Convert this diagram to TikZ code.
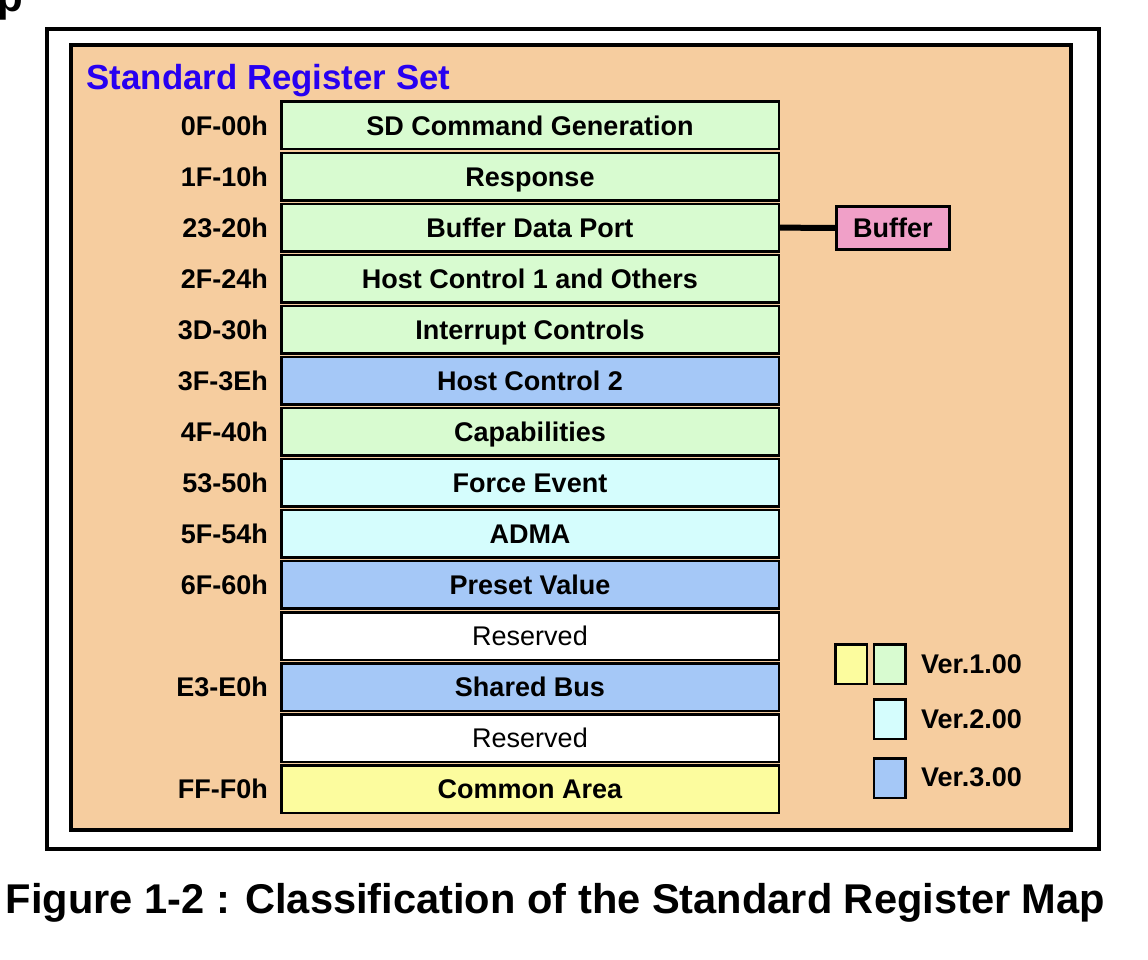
\documentclass[tikz,border=0pt]{standalone}
\usepackage{fontspec}
\setmainfont{Liberation Sans}
\definecolor{bgorange}{HTML}{F6CD9F}
\definecolor{vgreen}{HTML}{D8FBD0}
\definecolor{vblue}{HTML}{A5C8F7}
\definecolor{vcyan}{HTML}{D5FDFD}
\definecolor{vyellow}{HTML}{FCFC9E}
\definecolor{vpink}{HTML}{F0A0C8}
\definecolor{titleblue}{HTML}{2800F0}
\begin{document}
\begin{tikzpicture}[x=1pt,y=-1pt,
  regbox/.style={draw=black, line width=2.5pt, minimum width=497.5pt, minimum height=47.5pt,
    inner sep=0pt, text height=19.3pt, text depth=0pt},
  bold27/.style={font=\fontsize{27}{27}\selectfont\bfseries},
  reg27/.style={font=\fontsize{27}{27}\selectfont},
  addrlabel/.style={bold27, anchor=base east, inner sep=0pt},
  legbox/.style={draw=black, line width=2.5pt, minimum width=31.5pt, minimum height=39.5pt, inner sep=0pt},
  legtext/.style={bold27, anchor=base west, inner sep=0pt}]
\useasboundingbox (0,0) rectangle (1148,960);
\fill[white] (0,0) rectangle (1148,960);
% cut-off heading glyph
\node[anchor=base west, inner sep=0pt, font=\fontsize{42}{42}\selectfont\bfseries] (ptop) at (-3,12) {p};
% frames
\draw[line width=4pt] (47,29.5) rectangle (1098.5,848.7);
\draw[line width=4pt, fill=bgorange] (71,45.5) rectangle (1071,830);
% title
\node[anchor=base west, inner sep=0pt, text=titleblue, font=\fontsize{34.8}{34.8}\selectfont\bfseries] (title) at (86.5,89.5) {Standard Register Set};
% register rows
\foreach \i/\txt/\col/\addr/\fnt in {
  1/SD Command Generation/vgreen/0F-00h/bold27,
  2/Response/vgreen/1F-10h/bold27,
  3/Buffer Data Port/vgreen/23-20h/bold27,
  4/Host Control 1 and Others/vgreen/2F-24h/bold27,
  5/Interrupt Controls/vgreen/3D-30h/bold27,
  6/Host Control 2/vblue/3F-3Eh/bold27,
  7/Capabilities/vgreen/4F-40h/bold27,
  8/Force Event/vcyan/53-50h/bold27,
  9/ADMA/vcyan/5F-54h/bold27,
  10/Preset Value/vblue/6F-60h/bold27,
  11/Reserved/white//reg27,
  12/Shared Bus/vblue/E3-E0h/bold27,
  13/Reserved/white//reg27,
  14/Common Area/vyellow/FF-F0h/bold27}{
  \pgfmathsetmacro{\yc}{125.5+51.05*(\i-1)}
  \node[regbox, fill=\col, \fnt] (r\i) at (530,\yc) {\txt};
  \node[addrlabel] (l\i) at (268,\yc+9.7) {\addr};
}
% buffer
\node[draw=black, line width=3pt, fill=vpink, minimum width=112.5pt, minimum height=42.5pt,
  inner sep=0pt, text height=19.3pt, text depth=0pt, bold27] (buf) at (892.8,228) {Buffer};
\draw[line width=6pt] (r3.east) -- (buf.west);
% legend
\node[legbox, fill=vyellow] (ly) at (851.3,664) {};
\node[legbox, fill=vgreen] (lg) at (889.5,664) {};
\node[legbox, fill=vcyan] (lc) at (889.5,719.2) {};
\node[legbox, fill=vblue] (lb) at (889.5,778.3) {};
\node[legtext] (t1) at (921,673.2) {Ver.1.00};
\node[legtext] (t2) at (921,728.8) {Ver.2.00};
\node[legtext] (t3) at (921,786.5) {Ver.3.00};
% caption
\node[anchor=base west, inner sep=0pt, font=\fontsize{41.6}{41.6}\selectfont\bfseries] (cap) at (5.5,913.3) {Figure 1-2 : Classification of the Standard Register Map};
\end{tikzpicture}
\end{document}
